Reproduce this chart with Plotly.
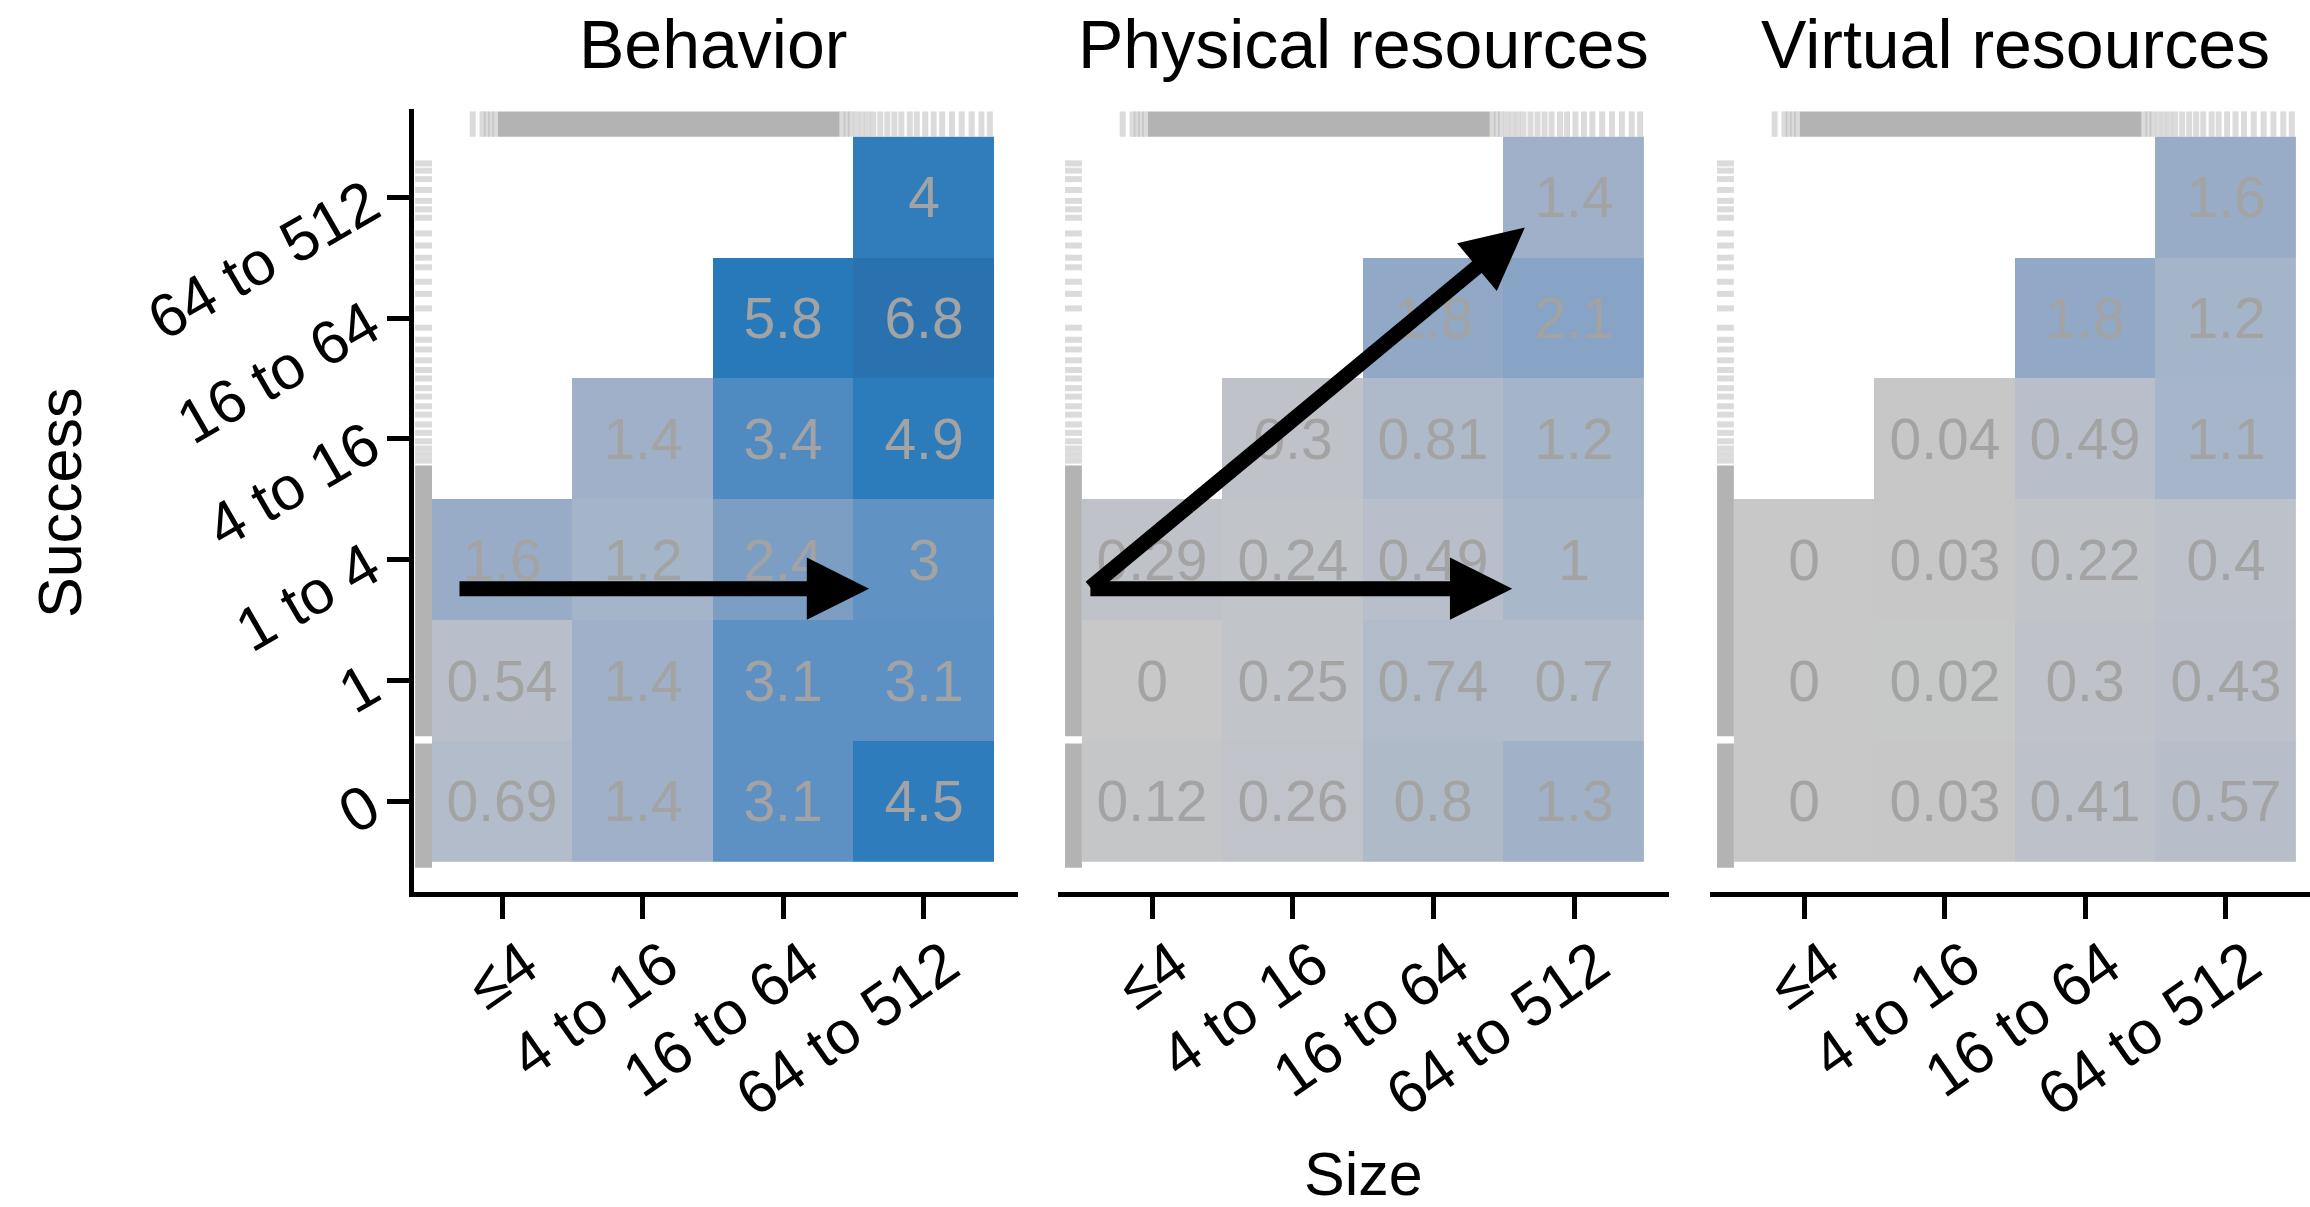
import plotly.graph_objects as go

# ---------------- data ----------------
size_labels = ["≤4", "4 to 16", "16 to 64", "64 to 512"]
success_labels = ["0", "1", "1 to 4", "4 to 16", "16 to 64", "64 to 512"]
panel_titles = ["Behavior", "Physical resources", "Virtual resources"]

# rows = success (0 .. 64 to 512), columns = size (≤4 .. 64 to 512)
behavior = [
    [0.69, 1.4, 3.1, 4.5],
    [0.54, 1.4, 3.1, 3.1],
    [1.6, 1.2, 2.4, 3],
    [None, 1.4, 3.4, 4.9],
    [None, None, 5.8, 6.8],
    [None, None, None, 4],
]
physical = [
    [0.12, 0.26, 0.8, 1.3],
    [0, 0.25, 0.74, 0.7],
    [0.29, 0.24, 0.49, 1],
    [None, 0.3, 0.81, 1.2],
    [None, None, 1.8, 2.1],
    [None, None, None, 1.4],
]
virtual = [
    [0, 0.03, 0.41, 0.57],
    [0, 0.02, 0.3, 0.43],
    [0, 0.03, 0.22, 0.4],
    [None, 0.04, 0.49, 1.1],
    [None, None, 1.8, 1.2],
    [None, None, None, 1.6],
]

# colour scale (value -> colour)
color_values = [0, 0.5, 1.0, 1.4, 2.0, 2.4, 3.0, 3.4, 4.0, 5.8, 6.8]
color_hex = ["#C8C8C8", "#B9BFCA", "#A8B7C9", "#9FB0C8", "#8AA4C5", "#7C9EC3",
             "#6192C4", "#4F8BC0", "#317DBC", "#2779B9", "#2A72AF"]

# rug data (positions in axis units of the size / success scales)
top_rug_band = [-0.03, 2.4]
top_rug_marks = [-0.21, -0.14, -0.11, -0.08, -0.05, 2.42, 2.45, 2.48, 2.52, 2.56, 2.6,
                 2.64, 2.69, 2.74, 2.79, 2.84, 2.9, 2.95, 3.01, 3.07, 3.13, 3.2,
                 3.27, 3.34, 3.41, 3.47]
left_rug_bands = [[-0.55, 0.48], [0.54, 2.78]]
left_rug_marks = [5.28, 5.22, 5.15, 5.06, 4.97, 4.9, 4.83, 4.7, 4.6, 4.5, 4.42, 4.3,
                  4.2, 4.08, 3.92, 3.82, 3.74, 3.65, 3.57, 3.5, 3.42, 3.35, 3.27,
                  3.2, 3.12, 3.05, 2.98, 2.92, 2.87, 2.82]

# arrows (tail -> tip, axis units)
arrows = {
    0: [((-0.315, 1.76), (2.61, 1.76))],
    1: [((-0.45, 1.76), (2.56, 1.76)), ((-0.45, 1.76), (2.65, 4.75))],
}

# ---------------- layout geometry ----------------
W, H = 2310, 1207
x_dom_px = [(414, 1018), (1058, 1669), (1710, 2310)]
y_dom_px = (109, 892)
x_ranges = [(-0.628, 3.67), (-0.67, 3.675), (-0.67, 3.6)]
title_centers_px = [713, 1363.5, 2015]
y_range = (-0.75, 5.73)
top_rug_y = (5.5, 5.71)
left_rug_x = (-0.62, -0.5)

FONT = "Liberation Sans, Arial, sans-serif"
vmax = max(color_values)
colorscale = [[v / vmax, c] for v, c in zip(color_values, color_hex)]

fig = go.Figure()
datasets = [behavior, physical, virtual]
RUG_MARK = dict(width=6, color="rgba(175,175,175,0.45)")

for i, data in enumerate(datasets):
    xa = "x" if i == 0 else f"x{i+1}"
    ya = "y" if i == 0 else f"y{i+1}"
    text = [["" if v is None else f"{v:g}" for v in row] for row in data]
    fig.add_trace(go.Heatmap(
        z=data, x=list(range(len(size_labels))), y=list(range(len(success_labels))),
        text=text, texttemplate="%{text}",
        textfont=dict(family=FONT, size=57, color="#A3A3A3"),
        colorscale=colorscale, zmin=0, zmax=vmax, showscale=False,
        hoverinfo="skip", xaxis=xa, yaxis=ya, xgap=0, ygap=0,
    ))
    # top rug band
    a, b = top_rug_band
    y0, y1 = top_rug_y
    fig.add_trace(go.Scatter(x=[a, b, b, a, a], y=[y0, y0, y1, y1, y0], fill="toself",
                             fillcolor="#B3B3B3", mode="lines", line=dict(width=0),
                             hoverinfo="skip", showlegend=False, xaxis=xa, yaxis=ya))
    xs, ys = [], []
    for m in top_rug_marks:
        xs += [m, m, None]
        ys += [y0, y1, None]
    fig.add_trace(go.Scatter(x=xs, y=ys, mode="lines", line=RUG_MARK,
                             hoverinfo="skip", showlegend=False, xaxis=xa, yaxis=ya))
    # left rug
    x0, x1 = left_rug_x
    for a, b in left_rug_bands:
        fig.add_trace(go.Scatter(x=[x0, x1, x1, x0, x0], y=[a, a, b, b, a], fill="toself",
                                 fillcolor="#B3B3B3", mode="lines", line=dict(width=0),
                                 hoverinfo="skip", showlegend=False, xaxis=xa, yaxis=ya))
    xs, ys = [], []
    for m in left_rug_marks:
        xs += [x0, x1, None]
        ys += [m, m, None]
    fig.add_trace(go.Scatter(x=xs, y=ys, mode="lines", line=RUG_MARK,
                             hoverinfo="skip", showlegend=False, xaxis=xa, yaxis=ya))

layout = dict(
    width=W, height=H, margin=dict(l=0, r=0, t=0, b=0),
    paper_bgcolor="white", plot_bgcolor="white", showlegend=False,
    font=dict(family=FONT, color="black"),
)
ydom = [(H - y_dom_px[1]) / H, (H - y_dom_px[0]) / H]
for i in range(3):
    xk = "xaxis" if i == 0 else f"xaxis{i+1}"
    yk = "yaxis" if i == 0 else f"yaxis{i+1}"
    ya = "y" if i == 0 else f"y{i+1}"
    xa = "x" if i == 0 else f"x{i+1}"
    layout[xk] = dict(
        domain=[x_dom_px[i][0] / W, x_dom_px[i][1] / W], anchor=ya,
        range=list(x_ranges[i]), showgrid=False, zeroline=False,
        showline=True, linecolor="black", linewidth=5,
        ticks="outside", ticklen=22, tickwidth=5, tickcolor="black",
        tickvals=list(range(len(size_labels))), ticktext=size_labels,
        tickangle=-35, tickfont=dict(family=FONT, size=61, color="black"),
        ticklabelshift=22, ticklabelstandoff=-14,
        automargin=False, fixedrange=True,
    )
    if i == 0:
        layout[yk] = dict(
            domain=ydom, anchor=xa, range=list(y_range), showgrid=False, zeroline=False,
            showline=True, linecolor="black", linewidth=5,
            ticks="outside", ticklen=22, tickwidth=5, tickcolor="black",
            tickvals=list(range(len(success_labels))), ticktext=success_labels,
            tickangle=-30, tickfont=dict(family=FONT, size=61, color="black"),
            ticklabelstandoff=6,
            automargin=False, fixedrange=True,
        )
    else:
        layout[yk] = dict(domain=ydom, anchor=xa, range=list(y_range), visible=False,
                          fixedrange=True)

annotations = []
for i, t in enumerate(panel_titles):
    annotations.append(dict(text=t, x=title_centers_px[i] / W, y=(H - 44) / H,
                            xref="paper", yref="paper",
                            showarrow=False, xanchor="center", yanchor="middle",
                            font=dict(family=FONT, size=68, color="black")))
annotations.append(dict(text="Success", x=60 / W, y=(H - 503) / H, xref="paper", yref="paper",
                        showarrow=False, textangle=-90, xanchor="center", yanchor="middle",
                        font=dict(family=FONT, size=61, color="black")))
annotations.append(dict(text="Size", x=1363 / W, y=(H - 1174) / H, xref="paper", yref="paper",
                        showarrow=False, xanchor="center", yanchor="middle",
                        font=dict(family=FONT, size=61, color="black")))
for i, lst in arrows.items():
    xa = "x" if i == 0 else f"x{i+1}"
    ya = "y" if i == 0 else f"y{i+1}"
    for tail, tip in lst:
        annotations.append(dict(x=tip[0], y=tip[1], ax=tail[0], ay=tail[1],
                                xref=xa, yref=ya, axref=xa, ayref=ya, text="",
                                showarrow=True, arrowhead=2, arrowsize=0.83,
                                arrowwidth=15, arrowcolor="black", standoff=0))
layout["annotations"] = annotations
fig.update_layout(**layout)
fig.write_html("out.html")
